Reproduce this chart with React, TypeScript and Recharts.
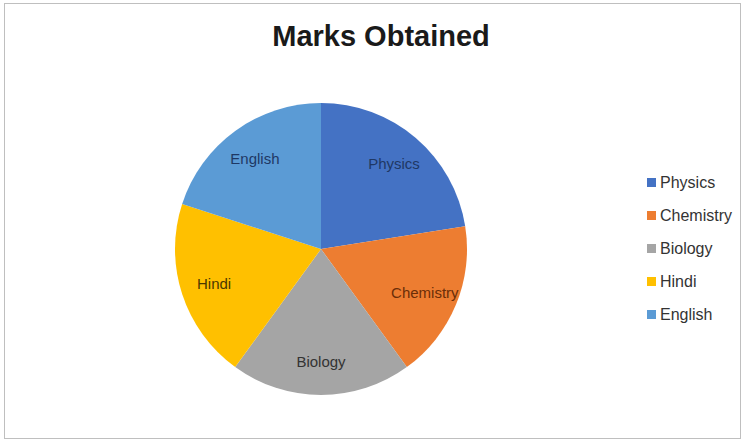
import React from 'react';
import { PieChart, Pie, Cell, Legend } from 'recharts';

const subjects = ['Physics', 'Chemistry', 'Biology', 'Hindi', 'English'];
const marks = [90, 70, 80, 80, 80];
const colors = ['#4472C4', '#ED7D31', '#A5A5A5', '#FFC000', '#5B9BD5'];
const labelColors = ['#1F3864', '#6B2E08', '#333333', '#4A3800', '#1F3864'];

const data = subjects.map((name, i) => ({ name, value: marks[i] }));

const RADIAN = Math.PI / 180;

const renderLabel = (props: any) => {
  const { cx, cy, midAngle, outerRadius, index } = props;
  const r = outerRadius * 0.77;
  const x = cx + r * Math.cos(-midAngle * RADIAN);
  const y = cy + r * Math.sin(-midAngle * RADIAN);
  return (
    <text
      x={x}
      y={y}
      fill={labelColors[index]}
      textAnchor="middle"
      dominantBaseline="central"
      fontSize={15}
      fontFamily="'Liberation Sans', sans-serif"
    >
      {subjects[index]}
    </text>
  );
};

const renderLegend = () => (
  <div style={{ fontFamily: "'Liberation Sans', sans-serif", fontSize: 16, color: '#333' }}>
    {subjects.map((s, i) => (
      <div key={s} style={{ display: 'flex', alignItems: 'center', height: 33 }}>
        <span style={{ width: 9, height: 9, background: colors[i], marginRight: 4, display: 'inline-block' }} />
        <span>{s}</span>
      </div>
    ))}
  </div>
);

export default function App() {
  return (
    <div style={{ position: 'absolute', left: 0, top: 0, width: 746, height: 443, background: '#fff' }}>
      <div
        style={{
          position: 'absolute',
          left: 4,
          top: 3,
          width: 737,
          height: 436,
          border: '1px solid #bfbfbf',
          boxSizing: 'border-box',
        }}
      />
      <div
        style={{
          position: 'absolute',
          left: 0,
          top: 20,
          width: 762,
          textAlign: 'center',
          fontFamily: "'Liberation Sans', sans-serif",
          fontWeight: 'bold',
          fontSize: 29,
          color: '#1a1a1a',
        }}
      >
        Marks Obtained
      </div>
      <PieChart width={746} height={443} style={{ position: 'absolute', left: 0, top: 0 }}>
        <Pie
          data={data}
          dataKey="value"
          nameKey="name"
          cx={316}
          cy={244}
          outerRadius={146}
          startAngle={90}
          endAngle={-270}
          stroke="none"
          label={renderLabel}
          labelLine={false}
          isAnimationActive={false}
        >
          {data.map((d, i) => (
            <Cell key={d.name} fill={colors[i]} />
          ))}
        </Pie>
        <Legend
          content={renderLegend}
          layout="vertical"
          wrapperStyle={{ position: 'absolute', left: 647, top: 166, width: 100 }}
        />
      </PieChart>
    </div>
  );
}
